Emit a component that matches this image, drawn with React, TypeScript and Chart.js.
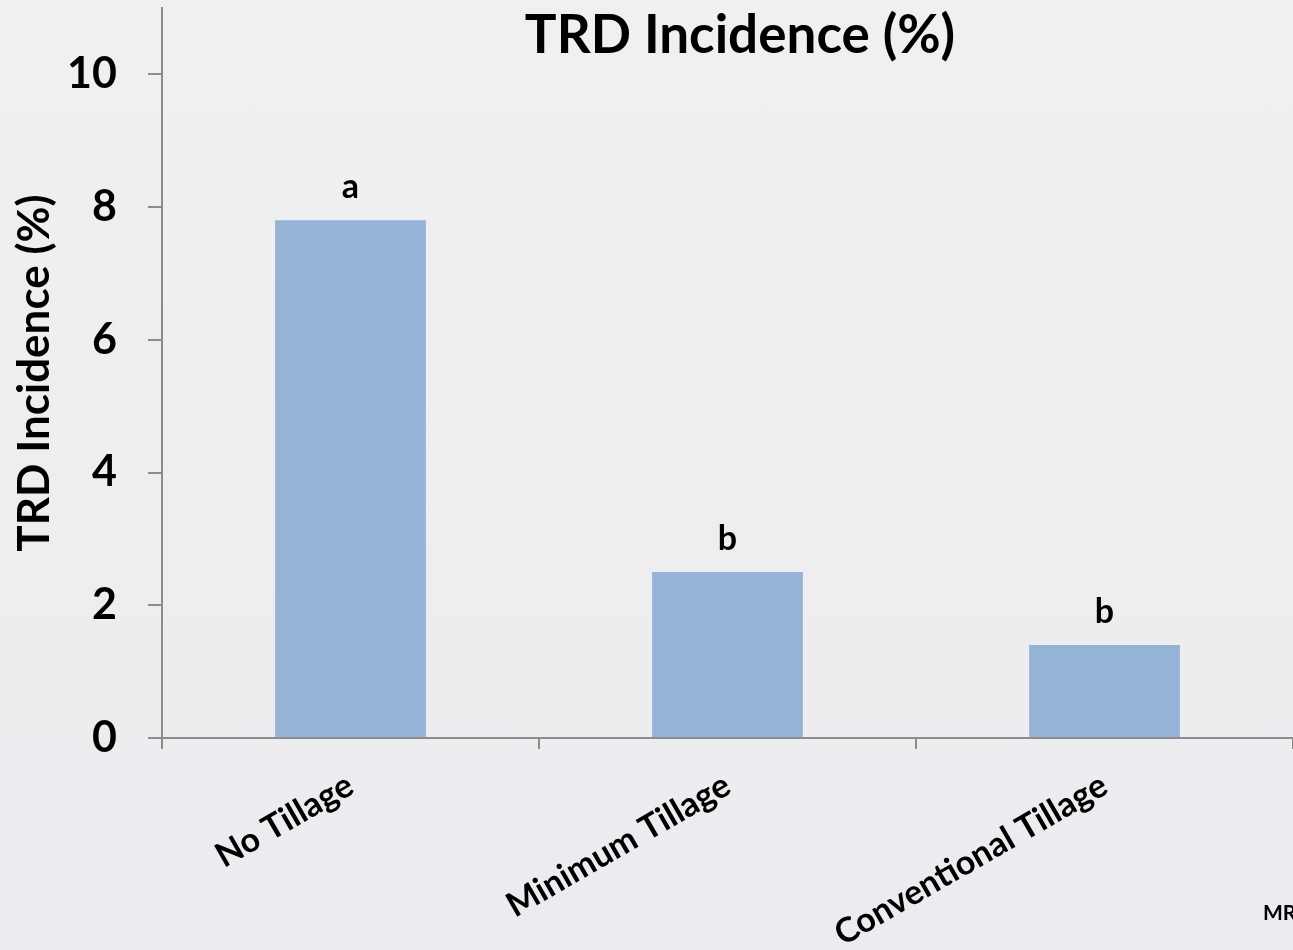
import React, { useEffect, useRef } from "react";
import { Chart, registerables } from "chart.js";

Chart.register(...registerables);

const categories = ["No Tillage", "Minimum Tillage", "Conventional Tillage"];
const incidence = [7.8, 2.5, 1.4];
const significance = ["a", "b", "b"];
const chartTitle = "TRD Incidence (%)";
const yAxisTitle = "TRD Incidence (%)";
const footerText = "MR";

const FONT = "Lato, 'Open Sans', sans-serif";
const AXIS_COLOR = "#8c8c8c";
const BAR_COLOR = "#95b3d7";

const overlayPlugin = {
  id: "overlay",
  afterDraw(chart: any) {
    const ctx = chart.ctx;
    ctx.save();
    ctx.fillStyle = "#000";
    ctx.font = `bold 53px ${FONT}`;
    ctx.textAlign = "center";
    ctx.textBaseline = "alphabetic";
    ctx.fillText(chartTitle, 740, 53);
    ctx.font = `bold 34px ${FONT}`;
    const meta = chart.getDatasetMeta(0);
    meta.data.forEach((el: any, i: number) => {
      ctx.fillText(significance[i], el.x, el.y - 22);
    });
    ctx.font = `bold 21px ${FONT}`;
    ctx.textAlign = "left";
    ctx.fillText(footerText, 1263, 920);
    ctx.restore();
  },
};

export default function App() {
  const ref = useRef<HTMLCanvasElement>(null);
  useEffect(() => {
    document.body.style.margin = "0";
    const chart = new Chart(ref.current!, {
      type: "bar",
      data: {
        labels: categories,
        datasets: [
          {
            data: incidence,
            backgroundColor: BAR_COLOR,
            borderWidth: 0,
            categoryPercentage: 1,
            barPercentage: 0.4,
          },
        ],
      },
      options: {
        responsive: false,
        animation: false,
        layout: { padding: { top: 8, left: 0, right: 0, bottom: 0 } },
        plugins: {
          legend: { display: false },
          tooltip: { enabled: false },
          title: { display: false },
        },
        scales: {
          x: {
            offset: true,
            grid: {
              offset: true,
              drawOnChartArea: false,
              tickLength: 11,
              color: AXIS_COLOR,
              lineWidth: 2,
            },
            border: { color: AXIS_COLOR, width: 2 },
            ticks: {
              minRotation: 30,
              maxRotation: 30,
              color: "#000",
              padding: 16,
              font: { family: FONT, weight: "bold", size: 34 },
            },
            afterFit: (s: any) => {
              s.height = 212;
              s.paddingLeft = 0;
              s.paddingRight = 0;
            },
          },
          y: {
            min: 0,
            max: 11,
            afterBuildTicks: (axis: any) => {
              axis.ticks = axis.ticks.filter((t: any) => t.value <= 10);
            },
            ticks: {
              stepSize: 2,
              padding: 31,
              color: "#000",
              font: { family: FONT, weight: "bold", size: 43 },
            },
            grid: {
              drawOnChartArea: false,
              tickLength: 14,
              color: AXIS_COLOR,
              lineWidth: 2,
            },
            border: { color: AXIS_COLOR, width: 2 },
            title: {
              display: true,
              text: yAxisTitle,
              color: "#000",
              font: { family: FONT, weight: "bold", size: 44 },
              padding: { top: 8, bottom: 0 },
            },
            afterFit: (s: any) => {
              s.width = 162;
              s.paddingTop = 0;
              s.paddingBottom = 0;
            },
          },
        },
      },
      plugins: [overlayPlugin],
    });
    return () => chart.destroy();
  }, []);
  return (
    <div
      style={{
        width: 1293,
        height: 950,
        overflow: "hidden",
        background: "linear-gradient(#f0f0f1, #ecebef)",
      }}
    >
      <canvas ref={ref} width={1293} height={950} style={{ display: "block" }} />
    </div>
  );
}
